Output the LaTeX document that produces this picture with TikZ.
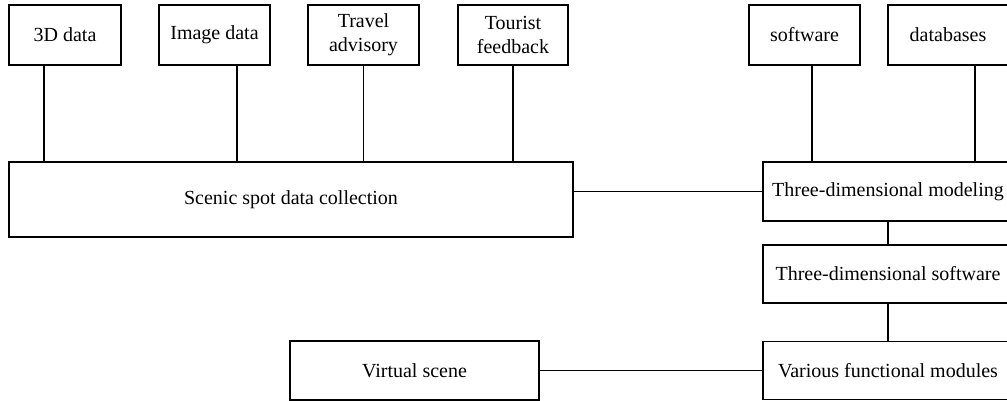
\documentclass[tikz,border=0pt]{standalone}
\usepackage{fontspec}
\setmainfont{Liberation Serif}
\begin{document}
\begin{tikzpicture}[x=1pt,y=-1pt,
  box/.style={draw, line width=1.4pt, inner sep=0pt, align=center, font=\fontsize{20}{24}\selectfont},
  conn/.style={line width=1.4pt}]
\useasboundingbox (0,0) rectangle (1007,401);
% top row
\node[box, minimum width=112pt, minimum height=60pt] (d3) at (65,35) {3D data};
\node[box, minimum width=111pt, minimum height=60pt] (img) at (214.5,35) {Image data};
\node[box, minimum width=111pt, minimum height=60pt] (travel) at (363.5,35) {Travel\\advisory};
\node[box, minimum width=110pt, minimum height=60pt] (tourist) at (513,35) {Tourist\\feedback};
\node[box, minimum width=111pt, minimum height=60pt] (soft) at (804.5,35) {software};
\node[box, minimum width=120pt, minimum height=60pt] (db) at (948,35) {databases};
% middle
\node[box, minimum width=564pt, minimum height=75pt] (scenic) at (291,199.5) {Scenic spot data collection};
\node[box, minimum width=250pt, minimum height=59pt] (model) at (888,191.5) {Three-dimensional modeling};
\node[box, minimum width=250pt, minimum height=58pt] (sw3d) at (888,274) {Three-dimensional software};
\node[box, minimum width=250pt, minimum height=58pt] (various) at (888,370.5) {Various functional modules};
\node[box, minimum width=249pt, minimum height=59pt] (virtual) at (414.5,370.5) {Virtual scene};
% connectors
\draw[conn] (d3.south -| 44,0) -- (scenic.north -| 44,0);
\draw[conn] (img.south -| 237,0) -- (scenic.north -| 237,0);
\draw[conn] (travel.south) -- (scenic.north -| travel.south);
\draw[conn] (tourist.south) -- (scenic.north -| tourist.south);
\draw[conn] (soft.south -| 812,0) -- (model.north -| 812,0);
\draw[conn] (db.south -| 975,0) -- (model.north -| 975,0);
\draw[conn] (model.west) -- (model.west -| scenic.east);
\draw[conn] (model.south) -- (sw3d.north);
\draw[conn] (sw3d.south) -- (various.north);
\draw[conn] (various.west) -- (virtual.east);
\end{tikzpicture}
\end{document}
